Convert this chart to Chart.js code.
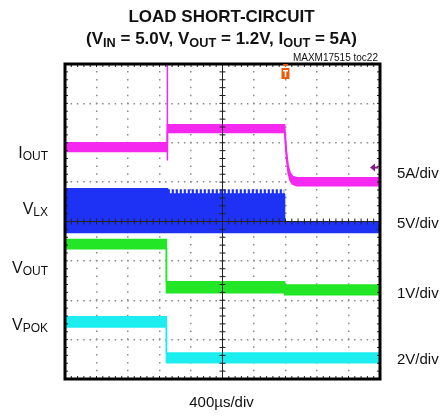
<!DOCTYPE html>
<html>
<head>
<meta charset="utf-8">
<script src="https://cdn.jsdelivr.net/npm/chart.js@4/dist/chart.umd.min.js"></script>
<style>
  body { margin: 0; background: #fff; }
  #wrap { position: relative; width: 443px; height: 416px; font-family: "Liberation Sans", Arial, sans-serif; color: #111; }
  #wrap canvas { position: absolute; left: 0; top: 0; }
  .txt { position: absolute; white-space: nowrap; line-height: 1; }
  .title { font-weight: bold; font-size: 17px; left: 0; width: 443px; text-align: center; }
  .title sub, .lab sub { font-size: 75%; vertical-align: -0.2em; line-height: 0; }
  .lab { font-size: 16px; text-align: right; width: 48px; left: 0; }
  .div { font-size: 15px; left: 397px; }
</style>
</head>
<body>
<div id="wrap">
  <canvas id="scope" width="443" height="416"></canvas>
  <div class="txt title" style="top:8px">LOAD SHORT-CIRCUIT</div>
  <div class="txt title" style="top:30px">(V<sub>IN</sub> = 5.0V, V<sub>OUT</sub> = 1.2V, I<sub>OUT</sub> = 5A)</div>
  <div class="txt" style="font-size:10px; right:65px; top:53px">MAXM17515 toc22</div>
  <div class="txt lab" style="top:145px">I<sub>OUT</sub></div>
  <div class="txt lab" style="top:201px">V<sub>LX</sub></div>
  <div class="txt lab" style="top:260px">V<sub>OUT</sub></div>
  <div class="txt lab" style="top:317px">V<sub>POK</sub></div>
  <div class="txt div" style="top:165px">5A/div</div>
  <div class="txt div" style="top:215px">5V/div</div>
  <div class="txt div" style="top:285px">1V/div</div>
  <div class="txt div" style="top:351px">2V/div</div>
  <div class="txt" style="font-size:15px; left:0; width:443px; text-align:center; top:394px">400µs/div</div>
</div>
<script>
// screen is 10 x 8 divisions, values below are in divisions
const xDivs = 10;
const yDivs = 8;

const ioutTime = [0, 3.25, 3.25, 6.97, 7.03, 7.08, 7.14, 7.22, 7.35, 10];
const ioutHigh = [6.0, 6.0, 6.46, 6.46, 5.8, 5.45, 5.25, 5.15, 5.11, 5.11];
const ioutLow  = [5.78, 5.78, 6.26, 6.26, 5.6, 5.25, 5.05, 4.95, 4.91, 4.91];
const spikeTime = [3.25, 3.25];
const spikeVal  = [8.0, 5.55];

const vlxTime = [0, 3.25, 3.26, 6.96, 6.97, 10];
const vlxHigh = [4.83, 4.83, 4.7, 4.7, 3.97, 3.97];
const vlxLow  = [3.72, 3.72, 3.72, 3.72, 3.72, 3.72];
// switching ripple on top of vlx while shorted
const rippleTime = [3.26, 6.96];
const rippleVal  = [4.74, 4.74];

const voutTime = [0, 3.22, 3.22, 6.97, 6.97, 10];
const voutHigh = [3.54, 3.54, 2.47, 2.47, 2.39, 2.39];
const voutLow  = [3.31, 3.31, 2.19, 2.19, 2.14, 2.14];

const vpokTime = [0, 3.22, 3.22, 10];
const vpokHigh = [1.58, 1.58, 0.66, 0.66];
const vpokLow  = [1.32, 1.32, 0.41, 0.41];

const triggerPos = 7.0;
const ioutRef = 5.37;

const magenta = '#f528f0';
const blue = '#1e32f5';
const green = '#22e626';
const cyan = '#1ceef0';

function pts(t, v) {
  return t.map((x, i) => ({ x: x, y: v[i] }));
}

function band(name, t, hi, lo, color) {
  return [
    { label: name, data: pts(t, hi), borderColor: color, backgroundColor: color, borderWidth: 1.5, fill: '+1' },
    { label: name + ' low', data: pts(t, lo), borderColor: color, backgroundColor: color, borderWidth: 1.5, fill: false }
  ];
}

const datasets = [].concat(
  band('IOUT', ioutTime, ioutHigh, ioutLow, magenta),
  [{ label: 'spike', data: pts(spikeTime, spikeVal), borderColor: magenta, borderWidth: 1.5, fill: false }],
  band('VLX', vlxTime, vlxHigh, vlxLow, blue),
  [{ label: 'ripple', data: pts(rippleTime, rippleVal), borderColor: blue, borderWidth: 6, borderDash: [2.2, 1.8], borderCapStyle: 'butt', fill: false }],
  band('VOUT', voutTime, voutHigh, voutLow, green),
  band('VPOK', vpokTime, vpokHigh, vpokLow, cyan)
);

const scopeDeco = {
  id: 'scopeDeco',
  afterDraw(chart) {
    const ctx = chart.ctx;
    const a = chart.chartArea;
    const xs = chart.scales.x, ys = chart.scales.y;
    ctx.save();
    // center cross with minor ticks
    const cx = xs.getPixelForValue(xDivs / 2);
    const cy = ys.getPixelForValue(yDivs / 2);
    ctx.strokeStyle = '#222';
    ctx.lineWidth = 1;
    ctx.beginPath();
    ctx.moveTo(a.left, cy); ctx.lineTo(a.right, cy);
    ctx.moveTo(cx, a.top); ctx.lineTo(cx, a.bottom);
    for (let i = 0; i <= xDivs * 5; i++) {
      const px = xs.getPixelForValue(i / 5);
      ctx.moveTo(px, cy - 3); ctx.lineTo(px, cy + 3);
      ctx.moveTo(px, a.top); ctx.lineTo(px, a.top + 3);
      ctx.moveTo(px, a.bottom); ctx.lineTo(px, a.bottom - 3);
    }
    for (let i = 0; i <= yDivs * 5; i++) {
      const py = ys.getPixelForValue(i / 5);
      ctx.moveTo(cx - 3, py); ctx.lineTo(cx + 3, py);
      ctx.moveTo(a.left, py); ctx.lineTo(a.left + 3, py);
      ctx.moveTo(a.right, py); ctx.lineTo(a.right - 3, py);
    }
    ctx.stroke();
    // frame
    ctx.strokeStyle = '#000';
    ctx.lineWidth = 3;
    ctx.strokeRect(a.left, a.top, a.right - a.left, a.bottom - a.top);
    // trigger marker
    const tx = xs.getPixelForValue(triggerPos);
    ctx.fillStyle = '#ee5a0a';
    ctx.beginPath();
    ctx.moveTo(tx - 3, a.top); ctx.lineTo(tx + 3, a.top); ctx.lineTo(tx, a.top + 3);
    ctx.fill();
    ctx.fillRect(tx - 4, a.top + 4, 8, 11);
    ctx.fillStyle = '#fff';
    ctx.fillRect(tx - 2.5, a.top + 6, 5, 1.5);
    ctx.fillRect(tx - 0.75, a.top + 6, 1.5, 7);
    // channel reference arrow
    const ry = ys.getPixelForValue(ioutRef);
    ctx.fillStyle = '#8a1a8a';
    ctx.beginPath();
    ctx.moveTo(a.right - 10, ry); ctx.lineTo(a.right - 5, ry - 4); ctx.lineTo(a.right - 5, ry + 4);
    ctx.fill();
    ctx.fillRect(a.right - 6, ry - 1, 4, 2);
    ctx.restore();
  }
};

new Chart(document.getElementById('scope'), {
  type: 'line',
  data: { datasets: datasets },
  options: {
    responsive: false,
    animation: false,
    layout: { padding: { left: 65, top: 64, right: 63, bottom: 37 } },
    elements: { point: { radius: 0 }, line: { tension: 0 } },
    plugins: { legend: { display: false }, tooltip: { enabled: false } },
    scales: {
      x: {
        type: 'linear', min: 0, max: xDivs, z: 1,
        ticks: { display: false, stepSize: 1 },
        border: { display: false, dash: [1.5, 6.36], dashOffset: 0.75 },
        grid: { color: '#8a8a8a', lineWidth: 1.5, drawTicks: false }
      },
      y: {
        type: 'linear', min: 0, max: yDivs, z: 1,
        ticks: { display: false, stepSize: 1 },
        border: { display: false, dash: [1.5, 4.8], dashOffset: 0.75 },
        grid: { color: '#8a8a8a', lineWidth: 1.5, drawTicks: false }
      }
    }
  },
  plugins: [scopeDeco]
});
</script>
</body>
</html>
